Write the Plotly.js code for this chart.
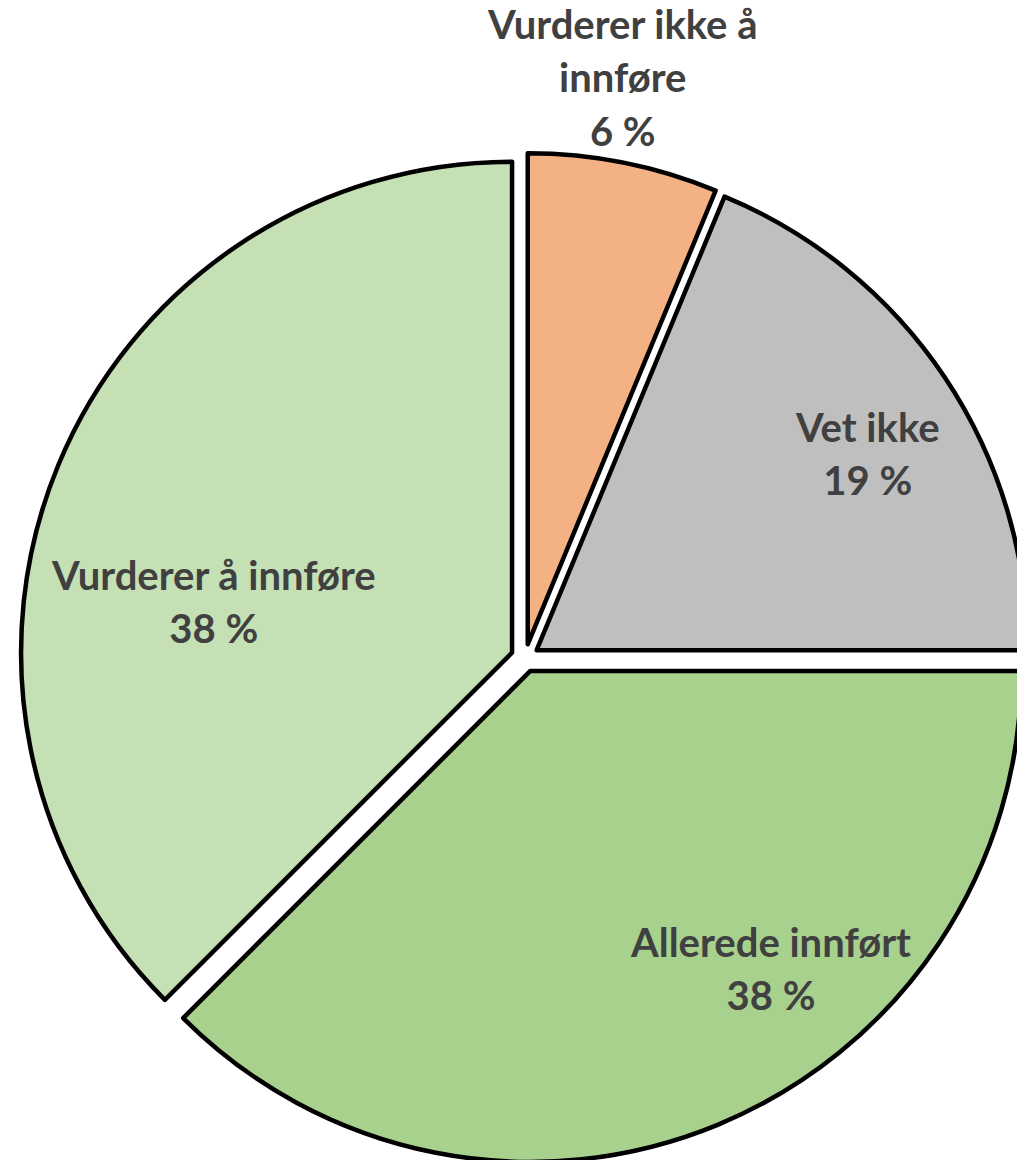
<!DOCTYPE html>
<html>
<head>
<meta charset="utf-8">
<script src="https://cdn.plot.ly/plotly-3.0.1.min.js"></script>
<style>
  html, body { margin: 0; padding: 0; overflow: hidden; background: #ffffff; }
  #chart { width: 1040px; height: 1170px; }
</style>
</head>
<body>
<div id="chart"></div>
<script>
// ---- data (clockwise from 12 o'clock) ----
const categories = ['Vurderer ikke å innføre', 'Vet ikke', 'Allerede innført', 'Vurderer å innføre'];
// shares in percent; the slice angles in the picture fall on 1/16 steps (labels show 6 %, 19 %, 38 %, 38 %)
const shares = [6.25, 18.75, 37.5, 37.5];
// how each category label is broken into lines
const labelText = ['Vurderer ikke å<br>innføre', 'Vet ikke', 'Allerede innført', 'Vurderer å innføre'];

// ---- styles ----
const sliceColors = ['#F4B183', '#BFBFBF', '#A9D18E', '#C5E0B4'];
const textColor = '#404040';
const glyphSize = 40;      // size of the label letters
const lineFontSize = 41;   // sets the line spacing of the labels

// ---- layout geometry ----
const W = 1040, H = 1170;
const M = { l: 20, r: 10, t: 153, b: 7 };
const pw = W - M.l - M.r, ph = H - M.t - M.b;
// label block centres, in page pixels (manually placed labels, as in the original)
const labelCentersPx = [[622, 78], [867, 453], [770, 968], [213, 601]];

const total = shares.reduce((a, b) => a + b, 0);
const pctText = shares.map(v => Math.round(v / total * 100) + ' %');

const annotations = categories.map((c, i) => {
  const lines = labelText[i].split('<br>').concat([pctText[i]]);
  const txt = lines.map(s => '<span style="font-size:' + glyphSize + 'px">' + s + '</span>').join('<br>');
  const [px, py] = labelCentersPx[i];
  return {
    xref: 'paper', yref: 'paper',
    x: (px - M.l) / pw,
    y: 1 - (py - M.t) / ph,
    xanchor: 'center', yanchor: 'middle',
    align: 'center',
    showarrow: false,
    text: txt,
    font: { family: 'Lato, "Open Sans", sans-serif', size: lineFontSize, color: textColor, weight: 700 }
  };
});

const trace = {
  type: 'pie',
  labels: categories,
  values: shares,
  sort: false,
  direction: 'clockwise',
  rotation: 0,
  pull: categories.map(() => 0.0285),
  marker: { colors: sliceColors, line: { color: '#000000', width: 4.5 } },
  textinfo: 'none',
  hovertemplate: '%{label}: %{percent}<extra></extra>',
  showlegend: false,
  domain: { x: [0, 1], y: [0, 1] }
};

const layout = {
  width: W, height: H,
  margin: M,
  paper_bgcolor: '#ffffff',
  plot_bgcolor: '#ffffff',
  showlegend: false,
  annotations: annotations
};

Plotly.newPlot('chart', [trace], layout, { displayModeBar: false, staticPlot: true });
</script>
</body>
</html>
